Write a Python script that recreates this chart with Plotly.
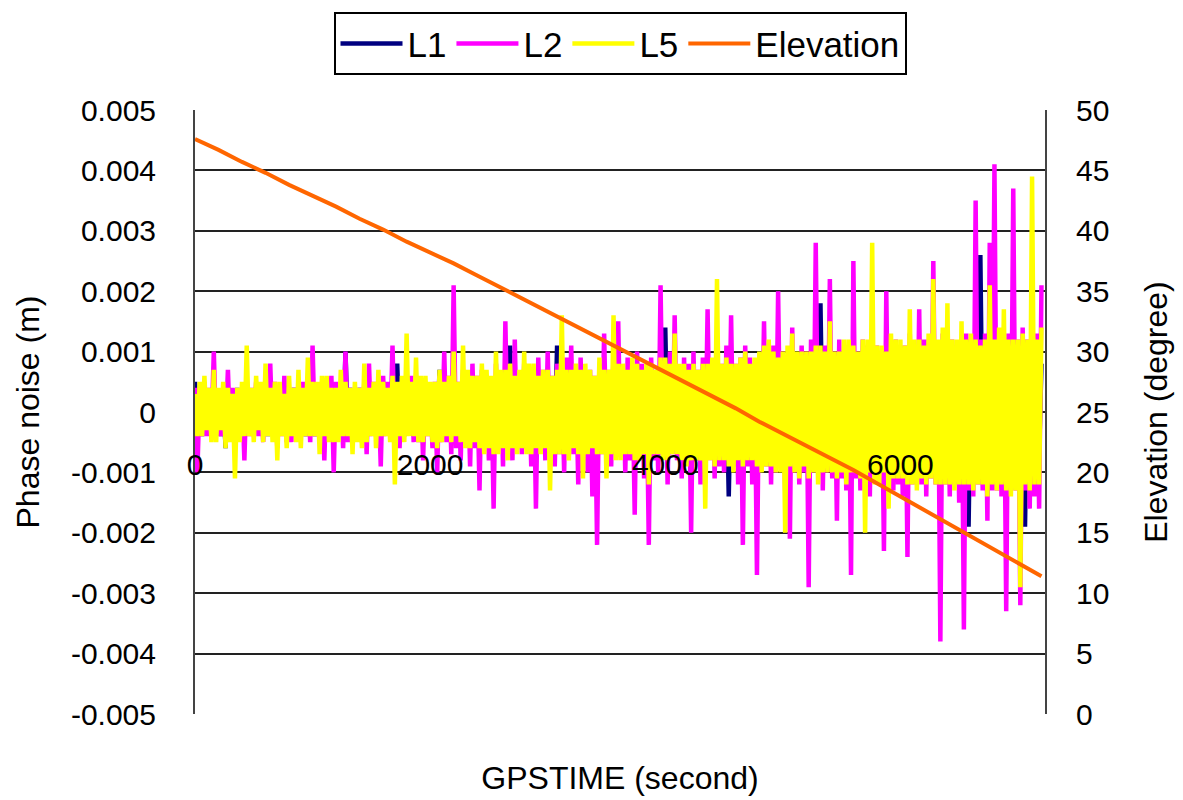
import plotly.graph_objects as go

# GPS time of each phase-noise sample (s): one sample every 20 s from 0 to 7200
gps_time = list(range(0, 7201, 20))

# Carrier-phase noise per frequency, in units of 0.1 mm (361 samples each)
l1_noise_01mm = [
    5, -3, 3, -4, 4, -3, 3, -3, 4, -3, 3, -4, 3, -6, 4, -3, 3, -4, 4, -3,
    3, -4, 4, -3, 3, -4, 4, -3, 3, -3, 4, -4, 3, -3, 4, -4, 3, -3, 4, -3,
    3, -4, 4, -3, 4, -3, 3, -4, 4, -3, 3, -4, 4, -3, 3, -4, 4, -3, 3, -4,
    4, -3, 3, -4, 10, -3, 4, -3, 3, -4, 4, -3, 3, -4, 4, -3, 3, -4, 4, -3,
    4, -3, 3, -4, 4, -3, 8, -4, 3, -4, 4, -3, 3, -4, 4, -3, 4, -4, 3, -3,
    4, -3, 3, -4, 7, -4, 4, -3, 3, -4, 4, -3, 3, -4, 4, -4, 3, -3, 4, -4,
    5, -4, 5, -5, 4, -5, 5, -4, 5, -5, 4, -5, 5, -4, 11, -5, 4, -5, 5, -4,
    5, -5, 4, -5, 5, -4, 5, -5, 4, -5, 5, -4, 5, -5, 11, -5, 4, -5, 5, -4,
    5, -5, 6, -5, 5, -6, 5, -5, 6, -5, 5, -6, 5, -5, 6, -5, 5, -6, 5, -5,
    6, -5, 5, -6, 6, -5, 5, -6, 6, -5, 5, -6, 6, -5, 5, -6, 6, -5, 5, -6,
    14, -6, 6, -5, 6, -6, 5, -6, 6, -5, 6, -6, 5, -6, 6, -5, 6, -6, 5, -6,
    6, -6, 6, -5, 6, -6, 6, -14, 6, -6, 7, -6, 6, -7, 6, -6, 7, -6, 6, -7,
    7, -7, 8, -7, 7, -8, 7, -7, 8, -7, 7, -8, 7, -7, 8, -7, 7, -8, 7, -7,
    8, -7, 7, -8, 7, -7, 18, -7, 8, -7, 7, -8, 7, -7, 8, -8, 7, -7, 8, -7,
    7, -8, 8, -7, 7, -8, 8, -7, 7, -8, 8, -7, 7, -8, 8, -7, 7, -8, 8, -7,
    8, -8, 7, -8, 8, -7, 8, -8, 7, -8, 8, -7, 8, -8, 7, -8, 8, -7, 8, -8,
    8, -8, 7, -8, 8, -7, 8, -8, 7, -19, 8, -7, 8, -8, 26, -8, 7, -8, 8, -7,
    8, -8, 7, -8, 8, -7, 8, -8, 7, -8, 8, -7, 8, -19, 8, -8, 7, -8, 8, -7, 8,
]

l2_noise_01mm = [
    4, -10, 3, -4, 5, -4, 4, -3, 10, -4, 3, -4, 4, -3, 7, -4, 4, -5, 3, -4,
    4, -8, 5, -4, 4, -3, 5, -4, 4, -5, 4, -3, 8, -4, 5, -6, 3, -4, 6, -5,
    4, -5, 4, -4, 5, -3, 5, -4, 4, -5, 11, -4, 4, -5, 4, -8, 5, -4, 6, -10,
    5, -4, 4, -6, 10, -5, 4, -5, 4, -3, 4, -5, 5, -7, 8, -4, 5, -4, 4, -9,
    6, -4, 5, -4, 11, -5, 4, -6, 5, -4, 4, -3, 6, -5, 4, -5, 5, -8, 5, -4,
    4, -6, 5, -10, 6, -5, 10, -5, 6, -7, 21, -6, 5, -8, 7, -5, 6, -9, 8, -6,
    6, -13, 7, -5, 6, -8, 5, -16, 8, -6, 6, -9, 15, -6, 6, -8, 12, -6, 6, -7,
    8, -6, 6, -9, 7, -16, 9, -6, 7, -8, 10, -7, 6, -9, 8, -7, 6, -10, 9, -7,
    11, -7, 6, -12, 9, -7, 6, -10, 7, -14, 6, -22, 8, -7, 13, -6, 7, -9, 10, -7,
    15, -7, 7, -10, 9, -8, 7, -17, 10, -6, 8, -11, 7, -22, 9, -8, 7, -10, 21, -7,
    8, -12, 10, -7, 16, -8, 7, -11, 9, -8, 8, -20, 10, -8, 7, -12, 9, -8, 17, -8,
    8, -11, 12, -9, 8, -10, 11, -8, 16, -9, 8, -12, 9, -22, 11, -9, 9, -12, 8, -27,
    9, -9, 15, -9, 9, -12, 11, -10, 20, -9, 10, -13, 9, -21, 14, -10, 9, -12, 11, -10,
    10, -29, 12, -10, 28, -10, 10, -13, 11, -10, 22, -11, 10, -18, 12, -11, 10, -13, 11, -27,
    25, -11, 10, -13, 12, -11, 11, -14, 13, -10, 11, -12, 10, -23, 20, -11, 11, -13, 12, -12,
    11, -14, 11, -24, 13, -12, 11, -12, 17, -12, 12, -14, 12, -11, 25, -12, 11, -38, 13, -12,
    12, -14, 12, -12, 11, -15, 12, -36, 13, -13, 12, -14, 35, -12, 12, -13, 13, -18, 28, -13,
    41, -13, 12, -14, 13, -33, 13, -12, 37, -13, 12, -32, 14, -13, 12, -16, 12, -14, 13, -16, 21,
]

l5_noise_01mm = [
    3, -4, 5, -4, 6, -3, 4, -5, 7, -5, 4, -3, 5, -6, 4, -5, 3, -11, 4, -5,
    5, -4, 11, -4, 4, -5, 6, -3, 5, -5, 8, -4, 4, -5, 5, -8, 5, -4, 3, -6,
    6, -4, 4, -5, 7, -6, 4, -4, 9, -4, 5, -4, 5, -7, 6, -4, 6, -5, 4, -5,
    4, -5, 7, -4, 5, -4, 4, -7, 5, -5, 4, -6, 8, -5, 4, -4, 5, -6, 7, -4,
    5, -4, 4, -5, 6, -12, 5, -4, 6, -5, 13, -4, 5, -4, 9, -5, 6, -5, 6, -4,
    5, -5, 5, -6, 7, -5, 5, -4, 6, -5, 10, -4, 5, -5, 11, -6, 7, -6, 6, -5,
    6, -6, 8, -7, 7, -6, 6, -7, 10, -7, 7, -6, 7, -8, 8, -6, 6, -7, 7, -6,
    10, -7, 8, -7, 8, -6, 6, -7, 7, -6, 7, -13, 6, -7, 7, -7, 16, -7, 7, -8,
    7, -6, 8, -7, 7, -11, 8, -7, 7, -6, 6, -7, 9, -7, 7, -11, 7, -7, 16, -8,
    8, -8, 8, -7, 7, -7, 9, -8, 8, -8, 7, -7, 8, -12, 8, -7, 7, -7, 9, -8,
    9, -8, 8, -7, 13, -7, 8, -8, 8, -9, 7, -8, 8, -8, 7, -8, 8, -16, 8, -8,
    9, -9, 22, -8, 8, -8, 9, -9, 8, -10, 8, -8, 9, -9, 10, -8, 8, -8, 9, -9,
    10, -10, 11, -9, 12, -9, 10, -10, 9, -10, 10, -20, 11, -9, 13, -10, 10, -11, 10, -9,
    10, -11, 10, -10, 11, -12, 11, -10, 10, -10, 15, -10, 10, -11, 10, -10, 12, -12, 12, -10,
    11, -10, 10, -11, 12, -20, 12, -10, 28, -12, 11, -12, 11, -10, 10, -16, 13, -11, 12, -11,
    12, -11, 11, -12, 17, -12, 12, -13, 12, -11, 11, -12, 13, -11, 22, -12, 12, -12, 14, -12,
    18, -12, 12, -13, 12, -12, 15, -12, 12, -12, 13, -13, 12, -12, 11, -12, 12, -14, 21, -12,
    12, -13, 14, -12, 17, -13, 12, -14, 12, -13, 12, -29, 13, -12, 12, -13, 39, -12, 12, -12, 14,
]

# Satellite elevation (degree), sampled every 200 s
elev_time = list(range(0, 7201, 200))
elevation_deg = [
    47.6, 46.7, 45.7, 44.8, 43.8, 42.9, 42.0, 41.0, 40.1, 39.1,
    38.2, 37.3, 36.3, 35.3, 34.3, 33.3, 32.3, 31.3, 30.3, 29.3,
    28.3, 27.3, 26.3, 25.3, 24.2, 23.2, 22.2, 21.2, 20.2, 19.1,
    18.0, 16.9, 15.8, 14.7, 13.6, 12.5, 11.4,
]

# Axis ticks
x_ticks = [0, 2000, 4000, 6000]
noise_ticks = [0.005, 0.004, 0.003, 0.002, 0.001, 0, -0.001, -0.002, -0.003, -0.004, -0.005]
noise_tick_text = ["0.005", "0.004", "0.003", "0.002", "0.001", "0",
                   "-0.001", "-0.002", "-0.003", "-0.004", "-0.005"]
elev_ticks = list(range(0, 51, 5))

FONT = "Liberation Sans, Arial, sans-serif"
TICK_SIZE = 30
X_MAX = 7230
NOISE_WIDTH = 4.5


def to_m(vals):
    return [v * 1e-4 for v in vals]


fig = go.Figure()
fig.add_trace(go.Scatter(x=gps_time, y=to_m(l1_noise_01mm), name="L1", mode="lines",
                         line=dict(color="#000080", width=NOISE_WIDTH)))
fig.add_trace(go.Scatter(x=gps_time, y=to_m(l2_noise_01mm), name="L2", mode="lines",
                         line=dict(color="#FF00FF", width=NOISE_WIDTH)))
fig.add_trace(go.Scatter(x=gps_time, y=to_m(l5_noise_01mm), name="L5", mode="lines",
                         line=dict(color="#FFFF00", width=NOISE_WIDTH)))
# elevation uses the overlaid x axis whose tick labels sit inside the plot
fig.add_trace(go.Scatter(x=elev_time, y=elevation_deg, name="Elevation", mode="lines",
                         xaxis="x2", yaxis="y2", line=dict(color="#FF6600", width=4)))

fig.update_layout(
    width=1183, height=800,
    margin=dict(l=195, r=138, t=110, b=80),
    paper_bgcolor="white", plot_bgcolor="white",
    font=dict(family=FONT, size=TICK_SIZE, color="black"),
    showlegend=True,
    legend=dict(
        orientation="h", x=0.5, xanchor="center", y=1.162, yanchor="top",
        bordercolor="black", borderwidth=2, bgcolor="white",
        font=dict(family=FONT, size=35, color="black"),
        itemwidth=62, traceorder="normal",
    ),
    xaxis=dict(
        range=[0, X_MAX], showticklabels=False, showgrid=False, zeroline=False,
        showline=False, ticks="",
        title=dict(text="GPSTIME (second)", font=dict(family=FONT, size=32), standoff=52),
    ),
    xaxis2=dict(
        overlaying="x", anchor="free", position=0.447, side="bottom",
        range=[0, X_MAX], tickvals=x_ticks, ticktext=[str(v) for v in x_ticks],
        showgrid=False, zeroline=False, showline=False, ticks="",
        tickfont=dict(family=FONT, size=TICK_SIZE, color="black"),
    ),
    yaxis=dict(
        range=[-0.005, 0.005], tickvals=noise_ticks, ticktext=noise_tick_text,
        showgrid=True, gridcolor="#222222", gridwidth=2, zeroline=False,
        showline=True, linecolor="#444444", linewidth=2, ticks="",
        ticklabelstandoff=31,
        tickfont=dict(family=FONT, size=TICK_SIZE, color="black"),
        title=dict(text="Phase noise (m)", font=dict(family=FONT, size=32), standoff=22),
    ),
    yaxis2=dict(
        overlaying="y", side="right", anchor="x",
        range=[0, 50], tickvals=elev_ticks,
        showgrid=False, zeroline=False, showline=True, linecolor="#444444", linewidth=2,
        ticks="", ticklabelstandoff=23,
        tickfont=dict(family=FONT, size=TICK_SIZE, color="black"),
        title=dict(text="Elevation (degree)", font=dict(family=FONT, size=32), standoff=36),
    ),
)

fig.write_html("out.html")
